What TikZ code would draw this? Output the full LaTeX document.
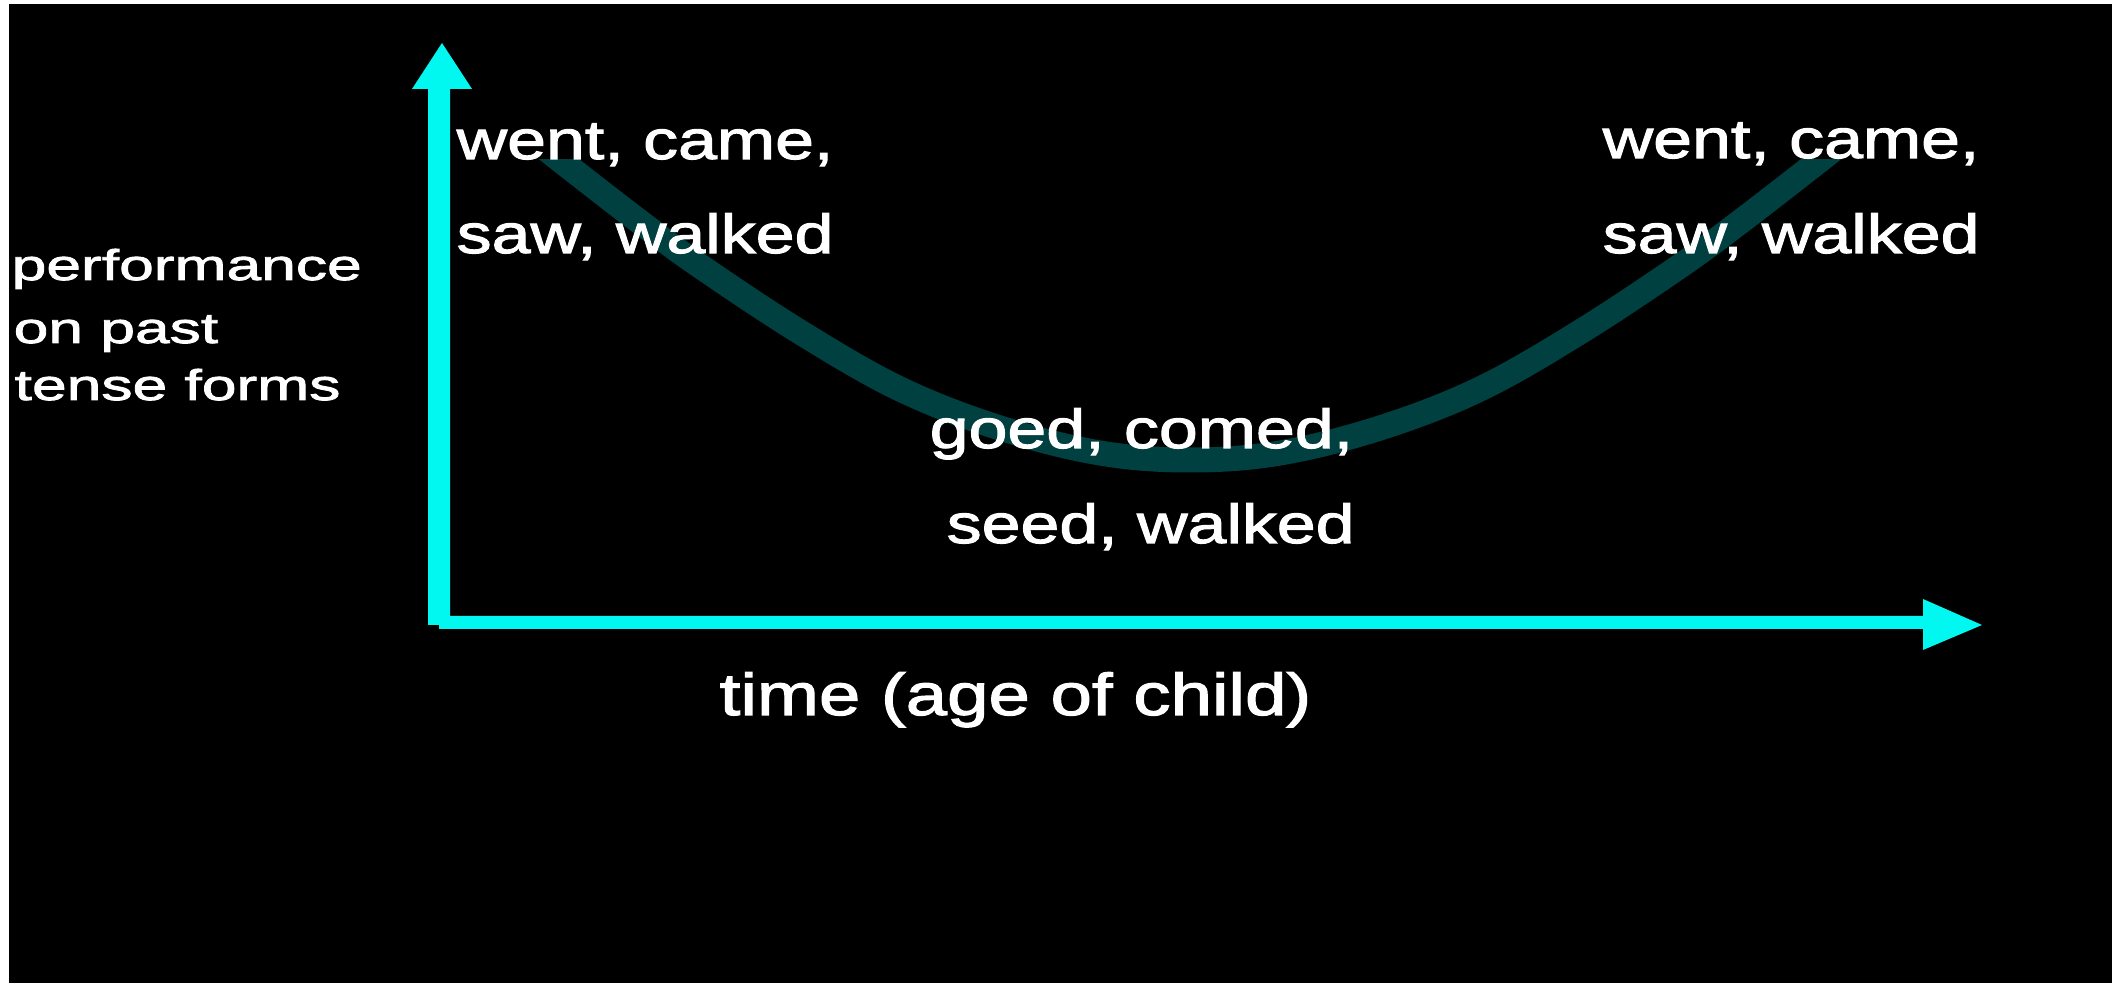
\documentclass[tikz,border=0pt]{standalone}
\usepackage{fontspec}
\newfontfamily\mainf{Liberation Sans}[FakeStretch=1.27, FakeBold=2]
\newfontfamily\leftf{Liberation Sans}[FakeStretch=1.45, FakeBold=2]
\newfontfamily\botf{Liberation Sans}[FakeStretch=1.26, FakeBold=2]
\definecolor{axiscyan}{RGB}{0,248,240}
\definecolor{curveteal}{RGB}{0,64,64}
\tikzset{
  lbl/.style={text=white, inner sep=0pt, anchor=base west},
  mainlbl/.style={lbl, font=\mainf\fontsize{15.65}{18}\selectfont},
  leftlbl/.style={lbl, font=\leftf\fontsize{12.23}{14}\selectfont},
  botlbl/.style={lbl, font=\botf\fontsize{16.8}{20}\selectfont},
  axisfill/.style={fill=axiscyan},
  ucurve/.style={draw=curveteal, line width=0.25cm}
}
\begin{document}
\begin{tikzpicture}[x=0.01cm, y=-0.01cm]
\useasboundingbox (0,0) rectangle (2112,983);
\fill[white] (0,0) rectangle (2112,983);
\fill[black] (9,4) rectangle (2112,983);
% U-shaped curve
\begin{scope}
\clip (0,160) rectangle (2112,983);
\draw[ucurve] plot[smooth, tension=0.6] coordinates {
 (510,120) (560,160) (640,222) (700,266) (800,332) (900,389) (1000,428) (1100,453) (1190,460)
 (1280,453) (1380,428) (1480,389) (1580,332) (1680,266) (1740,222) (1820,160) (1870,120)};
\end{scope}
% axes
\fill[axisfill] (428,625) -- (428,89) -- (412,89) -- (442,43) -- (472,89) -- (450,89) -- (450,625) -- cycle;
\fill[axisfill] (439,616) -- (1923,616) -- (1923,599) -- (1982,625) -- (1923,650) -- (1923,629) -- (439,629) -- cycle;
% labels
\node[mainlbl] (l1) at (456,159) {went, came,};
\node[mainlbl] (l2) at (456,253) {saw, walked};
\node[mainlbl] (r1) at (1602,158) {went, came,};
\node[mainlbl] (r2) at (1602,253) {saw, walked};
\node[mainlbl] (m1) at (929,448) {goed, comed,};
\node[mainlbl] (m2) at (946,543) {seed, walked};
\node[botlbl] (xl) at (719,715) {time (age of child)};
\node[leftlbl] (y1) at (11,280) {performance};
\node[leftlbl] (y2) at (13,343) {on past};
\node[leftlbl] (y3) at (14,400) {tense forms};
\end{tikzpicture}
\end{document}
